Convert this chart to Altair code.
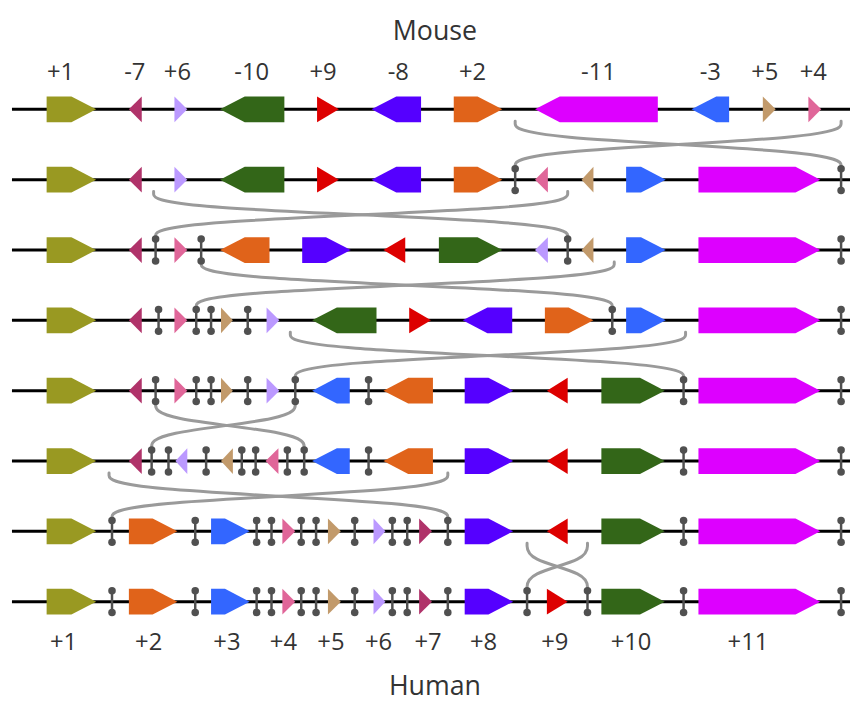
import altair as alt
import pandas as pd

# ---------------- data (reference pixel coordinates) ----------------
ROW_Y = [107, 178, 249, 320, 391, 462, 533, 604]
LINE_START, LINE_END = 12, 858

row1_genes = ["+1", "-7", "+6", "-10", "+9", "-8", "+2", "-11", "-3", "+5", "+4"]
row1_start = [47, 130, 176, 222, 320, 375, 458, 540, 698, 770, 816]
row1_end = [97, 143, 189, 287, 342, 425, 507, 664, 736, 783, 829]
row1_breaks = []

row2_genes = ["+1", "-7", "+6", "-10", "+9", "-8", "+2", "-4", "-5", "+3", "+11"]
row2_start = [47, 130, 176, 222, 320, 375, 458, 540, 587, 632, 705]
row2_end = [97, 143, 189, 287, 342, 425, 507, 553, 599, 672, 828]
row2_breaks = [520, 849]

row3_genes = ["+1", "-7", "+4", "-2", "+8", "-9", "+10", "-6", "-5", "+3", "+11"]
row3_start = [47, 130, 176, 222, 305, 387, 443, 540, 587, 632, 705]
row3_end = [97, 143, 189, 272, 354, 409, 507, 553, 599, 672, 828]
row3_breaks = [157, 203, 573, 849]

row4_genes = ["+1", "-7", "+4", "+5", "+6", "-10", "+9", "-8", "+2", "+3", "+11"]
row4_start = [47, 130, 176, 223, 269, 315, 413, 467, 550, 632, 705]
row4_end = [97, 143, 189, 235, 282, 380, 435, 517, 599, 672, 828]
row4_breaks = [160, 198, 213, 250, 618, 849]

row5_genes = ["+1", "-7", "+4", "+5", "+6", "-3", "-2", "+8", "-9", "+10", "+11"]
row5_start = [47, 130, 176, 223, 269, 315, 387, 469, 552, 607, 705]
row5_end = [97, 143, 189, 235, 282, 353, 437, 518, 573, 671, 828]
row5_breaks = [157, 198, 213, 250, 298, 372, 690, 849]

row6_genes = ["+1", "-7", "-6", "-5", "-4", "-3", "-2", "+8", "-9", "+10", "+11"]
row6_start = [47, 130, 177, 223, 268, 315, 387, 469, 552, 607, 705]
row6_end = [97, 143, 189, 235, 281, 353, 437, 518, 573, 671, 828]
row6_breaks = [153, 170, 208, 244, 258, 290, 307, 372, 690, 849]

row7_genes = ["+1", "+2", "+3", "+4", "+5", "+6", "+7", "+8", "-9", "+10", "+11"]
row7_start = [47, 130, 213, 285, 331, 377, 423, 469, 552, 607, 705]
row7_end = [97, 179, 252, 298, 344, 389, 436, 518, 573, 671, 828]
row7_breaks = [113, 197, 259, 274, 304, 319, 358, 396, 411, 452, 690, 849]

row8_genes = ["+1", "+2", "+3", "+4", "+5", "+6", "+7", "+8", "+9", "+10", "+11"]
row8_start = [47, 130, 213, 285, 331, 377, 423, 469, 552, 607, 705]
row8_end = [97, 179, 252, 298, 344, 389, 436, 518, 573, 671, 828]
row8_breaks = [113, 197, 259, 274, 304, 319, 358, 396, 411, 452, 532, 593, 690, 849]

# swaps between consecutive rows: (upper row index, x on upper row, x on lower row)
curve_row = [0, 0, 1, 1, 2, 2, 3, 3, 4, 4, 5, 5, 6, 6]
curve_from = [520, 849, 155, 573, 203, 620, 293, 692, 157, 298, 110, 452, 532, 593]
curve_to = [849, 520, 573, 157, 618, 198, 690, 298, 307, 153, 452, 113, 593, 532]

top_labels = ["+1", "-7", "+6", "-10", "+9", "-8", "+2", "-11", "-3", "+5", "+4"]
top_label_x = [61, 136, 179, 254, 326, 402, 477, 604, 717, 772, 821]
bottom_labels = ["+1", "+2", "+3", "+4", "+5", "+6", "+7", "+8", "+9", "+10", "+11"]
bottom_label_x = [64, 150, 229, 286, 334, 382, 432, 488, 560, 637, 755]

gene_ids = ["1", "2", "3", "4", "5", "6", "7", "8", "9", "10", "11"]
gene_colors = ["#999922", "#e0631a", "#3366ff", "#e06699", "#c29a6b", "#bb99ff",
               "#b0336a", "#5500ff", "#dd0000", "#336618", "#dd00ff"]

rows = [
    (row1_genes, row1_start, row1_end, row1_breaks),
    (row2_genes, row2_start, row2_end, row2_breaks),
    (row3_genes, row3_start, row3_end, row3_breaks),
    (row4_genes, row4_start, row4_end, row4_breaks),
    (row5_genes, row5_start, row5_end, row5_breaks),
    (row6_genes, row6_start, row6_end, row6_breaks),
    (row7_genes, row7_start, row7_end, row7_breaks),
    (row8_genes, row8_start, row8_end, row8_breaks),
]

HALF_H = 13     # half gene height
HEAD = 25       # arrow head length
BAR = 11        # barbell half length
PULL = 0.35     # curve control-point pull (fraction of row gap)

# ---------------- tables built from the arrays ----------------
gene_pts, bar_rules, bar_dots, lines = [], [], [], []
for r, (genes, starts, ends, breaks) in enumerate(rows):
    y = ROW_Y[r]
    lines.append({"x": LINE_START, "x2": LINE_END, "y": y})
    for g, x0, x1 in zip(genes, starts, ends):
        sid = f"{r}_{g}"
        gid = g[1:]
        head = min(HEAD, x1 - x0)
        if g[0] == "+":
            pts = [(x0, y - HALF_H, y + HALF_H)]
            if x1 - head > x0:
                pts.append((x1 - head, y - HALF_H, y + HALF_H))
            pts.append((x1, y, y))
        else:
            pts = [(x0, y, y)]
            if x0 + head < x1:
                pts.append((x0 + head, y - HALF_H, y + HALF_H))
            pts.append((x1, y - HALF_H, y + HALF_H))
        for px, pt, pb in pts:
            gene_pts.append({"sid": sid, "gene": gid, "x": px, "top": pt, "bot": pb})
    for bx in breaks:
        bar_rules.append({"x": bx, "y": y - BAR, "y2": y + BAR})
        bar_dots.append({"x": bx, "y": y - BAR})
        bar_dots.append({"x": bx, "y": y + BAR})

curve_pts = []
for i, (r, a, b) in enumerate(zip(curve_row, curve_from, curve_to)):
    ya = ROW_Y[r] + 12
    yb = ROW_Y[r + 1] - 12
    d = yb - ya
    ctrl = [(a, ya), (a, ya + PULL * d), (b, yb - PULL * d), (b, yb)]
    for k, (px, py) in enumerate(ctrl):
        curve_pts.append({"cid": i, "k": k, "x": px, "y": py})

labels = [{"t": t, "x": x, "y": 77} for t, x in zip(top_labels, top_label_x)]
labels += [{"t": t, "x": x, "y": 653} for t, x in zip(bottom_labels, bottom_label_x)]
titles = [{"t": "Mouse", "x": 439, "y": 37}, {"t": "Human", "x": 439, "y": 698}]

# ---------------- chart ----------------
XS = alt.Scale(domain=[8, 858], nice=False, zero=False)
YS = alt.Scale(domain=[707, 8], nice=False, zero=False)
FONT = "Open Sans"

line_layer = alt.Chart(pd.DataFrame(lines)).mark_rule(color="black", strokeWidth=3).encode(
    x=alt.X("x:Q", scale=XS, axis=None), x2="x2:Q",
    y=alt.Y("y:Q", scale=YS, axis=None))

gene_layer = alt.Chart(pd.DataFrame(gene_pts)).mark_area(opacity=1, interpolate="linear").encode(
    x=alt.X("x:Q", scale=XS, axis=None),
    y=alt.Y("top:Q", scale=YS, axis=None, stack=None), y2="bot:Q",
    detail="sid:N",
    color=alt.Color("gene:N", scale=alt.Scale(domain=gene_ids, range=gene_colors), legend=None))

curve_layer = alt.Chart(pd.DataFrame(curve_pts)).mark_line(
    interpolate="basis", color="#9a9a9a", strokeWidth=3, strokeCap="round").encode(
    x=alt.X("x:Q", scale=XS, axis=None),
    y=alt.Y("y:Q", scale=YS, axis=None),
    detail="cid:N", order="k:Q")

bar_rule_layer = alt.Chart(pd.DataFrame(bar_rules)).mark_rule(color="#505050", strokeWidth=2.5).encode(
    x=alt.X("x:Q", scale=XS, axis=None),
    y=alt.Y("y:Q", scale=YS, axis=None), y2="y2:Q")

bar_dot_layer = alt.Chart(pd.DataFrame(bar_dots)).mark_circle(color="#505050", size=58, opacity=1).encode(
    x=alt.X("x:Q", scale=XS, axis=None),
    y=alt.Y("y:Q", scale=YS, axis=None))

label_layer = alt.Chart(pd.DataFrame(labels)).mark_text(
    font=FONT, fontSize=24, color="#333333", baseline="alphabetic", align="center").encode(
    x=alt.X("x:Q", scale=XS, axis=None),
    y=alt.Y("y:Q", scale=YS, axis=None), text="t:N")

title_layer = alt.Chart(pd.DataFrame(titles)).mark_text(
    font=FONT, fontSize=27, color="#333333", baseline="alphabetic", align="center").encode(
    x=alt.X("x:Q", scale=XS, axis=None),
    y=alt.Y("y:Q", scale=YS, axis=None), text="t:N")

chart = alt.layer(line_layer, gene_layer, curve_layer, bar_rule_layer, bar_dot_layer,
                  label_layer, title_layer).properties(
    width=850, height=699, padding=0,
    autosize=alt.AutoSizeParams(type="none"),
    background="white",
).configure_view(stroke=None)

chart.save("out.html", embed_options={"renderer": "svg", "actions": False})
